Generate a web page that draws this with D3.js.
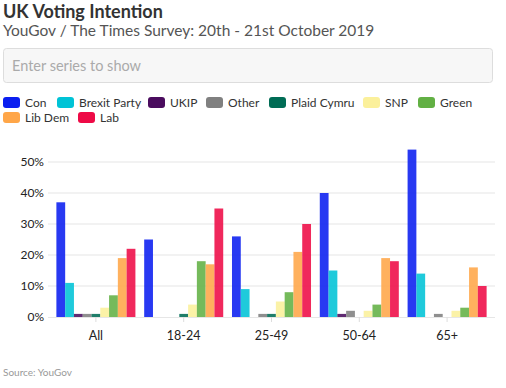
<!DOCTYPE html>
<html>
<head>
<meta charset="utf-8">
<script src="https://cdn.jsdelivr.net/npm/d3@7"></script>
<style>
  body { margin: 0; background: #fff; font-family: Lato, 'Open Sans', sans-serif; }
</style>
</head>
<body>
<svg id="chart" width="506" height="388"></svg>
<script>
// DATA
const groups = ['All', '18-24', '25-49', '50-64', '65+'];
const parties = ['Con', 'Brexit Party', 'UKIP', 'Other', 'Plaid Cymru', 'SNP', 'Green', 'Lib Dem', 'Lab'];
const partyColors = ['#0a1ef0', '#00c3d6', '#4a0c5e', '#808080', '#006c55', '#fbf09b', '#62b044', '#ffa648', '#ee0a46'];
const con = [37, 25, 26, 40, 54];
const brexit = [11, 0, 9, 15, 14];
const ukip = [1, 0, 0, 1, 0];
const other = [1, 0, 1, 2, 1];
const plaid = [1, 1, 1, 0, 0];
const snp = [3, 4, 5, 2, 2];
const green = [7, 18, 8, 4, 3];
const libDem = [19, 17, 21, 19, 16];
const lab = [22, 35, 30, 18, 10];
const yTicks = [0, 10, 20, 30, 40, 50];

const series = [con, brexit, ukip, other, plaid, snp, green, libDem, lab];

const svg = d3.select('#chart');

//TITLE
svg.append('text')
  .attr('x', 3).attr('y', 18)
  .style('font-size', '18px').style('font-weight', 'bold').style('fill', '#333')
  .text('UK Voting Intention');

svg.append('text')
  .attr('x', 3).attr('y', 36)
  .style('font-size', '15.5px').style('fill', '#555')
  .text('YouGov / The Times Survey: 20th - 21st October 2019');

//SEARCH BOX
svg.append('rect')
  .attr('x', 3.5).attr('y', 48.5).attr('width', 489).attr('height', 34).attr('rx', 3)
  .style('fill', '#f7f7f7').style('stroke', '#ddd');

svg.append('text')
  .attr('x', 12).attr('y', 71)
  .style('font-size', '14.5px').style('fill', '#aaa')
  .text('Enter series to show');

//LEGEND
const legendRows = [[0, 1, 2, 3, 4, 5, 6], [7, 8]];
const legendX = [[3, 57, 148, 206, 269, 363, 418], [3, 78]];
legendRows.forEach((row, r) => {
  row.forEach((p, i) => {
    const g = svg.append('g').attr('transform', `translate(${legendX[r][i]},${97 + r * 15})`);
    g.append('rect').attr('width', 17).attr('height', 11).attr('rx', 3).style('fill', partyColors[p]);
    g.append('text').attr('x', 22).attr('y', 10)
      .style('font-size', '12px').style('fill', '#333').text(parties[p]);
  });
});

//SCALES
const x0 = d3.scaleBand().domain(groups).range([52, 491]).paddingInner(0.1).paddingOuter(0.05);
const x1 = d3.scaleBand().domain(parties).range([0, x0.bandwidth()]);
const y = d3.scaleLinear().domain([0, 50]).range([317, 162]);

//GRID
svg.append('g').selectAll('line')
  .data(yTicks.slice(1))
  .join('line')
  .attr('x1', 48).attr('x2', 495)
  .attr('y1', (d) => y(d)).attr('y2', (d) => y(d))
  .style('stroke', '#eeeeee').style('stroke-width', 1.5);

//BARS
const rows = groups.map((g, gi) => ({ group: g, values: parties.map((p, pi) => ({ party: p, value: series[pi][gi], color: partyColors[pi] })) }));

svg.append('g').selectAll('g')
  .data(rows)
  .join('g')
  .attr('transform', (d) => `translate(${x0(d.group)},0)`)
  .selectAll('rect')
  .data((d) => d.values)
  .join('rect')
  .attr('x', (d) => x1(d.party))
  .attr('width', x1.bandwidth())
  .attr('y', (d) => y(d.value))
  .attr('height', (d) => y(0) - y(d.value))
  .style('fill', (d) => d.color)
  .style('opacity', 0.88);

//AXES
const xAxis = svg.append('g')
  .attr('transform', `translate(0,${y(0)})`)
  .call(d3.axisBottom(x0).tickSize(5).tickSizeOuter(0));
xAxis.select('.domain').attr('d', 'M48,0.5H495').style('stroke', '#e6e6e6');
xAxis.selectAll('.tick line').style('stroke', '#ddd');
xAxis.selectAll('.tick text').attr('dy', '1.2em').style('font-size', '12.5px').style('fill', '#222').style('font-family', 'Lato, sans-serif');

const yAxis = svg.append('g')
  .attr('transform', 'translate(45,0)')
  .call(d3.axisLeft(y).tickValues(yTicks).tickSize(0).tickFormat((d) => d + '%'));
yAxis.select('.domain').remove();
yAxis.selectAll('.tick text').attr('x', -1).style('font-size', '12px').style('fill', '#222').style('font-family', 'Lato, sans-serif');

//SOURCE
svg.append('text')
  .attr('x', 3).attr('y', 376)
  .style('font-size', '10px').style('fill', '#999')
  .text('Source: YouGov');
</script>
</body>
</html>
